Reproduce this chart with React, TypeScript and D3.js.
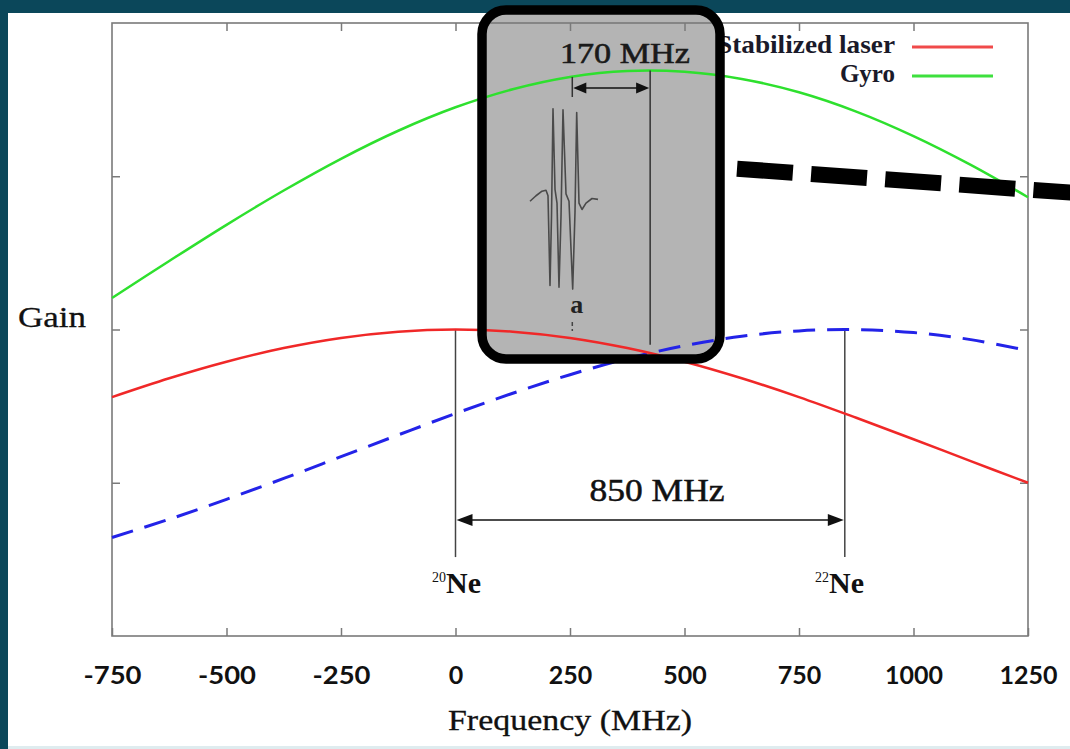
import React, { useEffect, useRef } from 'react';
import * as d3 from 'd3';

const W = 1070;
const H = 749;

// Frequency grid (MHz) and gain values
const freqs = [-750, -625, -500, -375, -250, -125, 0, 125, 250, 375, 500, 625, 750, 875, 1000, 1125, 1250];
const stabilizedLaser = [1.559, 1.682, 1.79, 1.879, 1.945, 1.986, 2.0, 1.986, 1.945, 1.879, 1.79, 1.682, 1.559, 1.424, 1.284, 1.141, 1.0];
const gyro = [2.206, 2.447, 2.683, 2.907, 3.114, 3.297, 3.45, 3.568, 3.648, 3.687, 3.682, 3.635, 3.548, 3.422, 3.262, 3.074, 2.863];
const ne22Gain = [0.643, 0.762, 0.892, 1.028, 1.17, 1.312, 1.452, 1.584, 1.705, 1.81, 1.894, 1.956, 1.991, 1.999, 1.98, 1.934, 1.863];

const xTicks = [-750, -500, -250, 0, 250, 500, 750, 1000, 1250];
const yTicks = [1, 2, 3];
const legendLabels = ['Stabilized laser', 'Gyro'];

// Annotation positions in data units
const ne20Freq = 0;
const ne22Freq = 850;
const gyroPeakFreq = 425;
const markerAFreq = 255;

// Inset spectrum sketch (local units: x 0..68, level -1..1)
const specX = [0, 6, 12, 16, 18, 20, 21.5, 23, 25, 27, 29, 31, 33, 36, 39, 42.7, 45, 46.7, 49, 52, 56, 62, 68];
const specY = [-0.03, 0.03, 0.08, 0.09, 0.03, -0.95, -0.2, 0.98, 0.1, -0.05, -0.97, -0.2, 0.97, 0.05, -0.03, -0.99, -0.15, 0.94, -0.05, -0.12, -0.05, 0.0, -0.01];

const SERIF = "'Liberation Serif', 'DejaVu Serif', serif";

export default function App() {
  const bottomRef = useRef<SVGGElement>(null);
  const topRef = useRef<SVGGElement>(null);
  const leftRef = useRef<SVGGElement>(null);
  const rightRef = useRef<SVGGElement>(null);

  const x = d3.scaleLinear().domain([-750, 1250]).range([112, 1028]);
  const y = d3.scaleLinear().domain([0, 4]).range([636, 23]);

  const line = (vals: number[]) =>
    d3
      .line<number>()
      .x((_, i) => x(freqs[i]))
      .y((d) => y(d))
      .curve(d3.curveCatmullRom.alpha(0.5))(vals) || '';

  const sx = d3.scaleLinear().domain([0, 68]).range([530, 598]);
  const sy = d3.scaleLinear().domain([-1, 1]).range([290, 107]);
  const specPath =
    d3
      .line<number>()
      .x((d) => sx(d))
      .y((_, i) => sy(specY[i]))
      .curve(d3.curveLinear)(specX) || '';

  useEffect(() => {
    const styleAxis = (g: d3.Selection<SVGGElement, unknown, null, undefined>) => {
      g.select('.domain').remove();
      g.selectAll('line').attr('stroke', '#7a7a7a').attr('stroke-width', 1.5);
    };
    const b = d3.select(bottomRef.current!);
    b.call(
      d3
        .axisBottom(x)
        .tickValues(xTicks)
        .tickSizeInner(-8)
        .tickSizeOuter(0)
        .tickPadding(31)
        .tickFormat((d) => String(d))
    );
    styleAxis(b);
    b.selectAll('text')
      .attr('font-family', "Lato, 'Liberation Sans', sans-serif")
      .attr('font-weight', 700)
      .attr('font-size', 24)
      .attr('textLength', (d: any) => String(d).length * 14.5)
      .attr('lengthAdjust', 'spacingAndGlyphs')
      .attr('fill', '#111');

    const t = d3.select(topRef.current!);
    t.call(d3.axisTop(x).tickValues(xTicks.slice(1, -1)).tickSizeInner(-8).tickSizeOuter(0).tickFormat(() => ''));
    styleAxis(t);

    const l = d3.select(leftRef.current!);
    l.call(d3.axisLeft(y).tickValues(yTicks).tickSizeInner(-8).tickSizeOuter(0).tickFormat(() => ''));
    styleAxis(l);

    const r = d3.select(rightRef.current!);
    r.call(d3.axisRight(y).tickValues(yTicks).tickSizeInner(-8).tickSizeOuter(0).tickFormat(() => ''));
    styleAxis(r);
  }, []);

  const arrowHead = (px: number, py: number, dir: number, len: number, half: number) =>
    `M${px},${py} L${px - dir * len},${py - half} L${px - dir * len},${py + half} Z`;

  const arrowY850 = y(0.757);
  const arrowY170 = y(3.576);

  return (
    <svg width={W} height={H} style={{ position: 'absolute', left: 0, top: 0 }}>
      {/* frame background */}
      <rect x={0} y={0} width={W} height={H} fill="#0b475a" />
      <rect x={8} y={13} width={W - 8} height={H - 16} fill="#ffffff" />
      <rect x={8} y={H - 3} width={W - 8} height={3} fill="#dfecef" />

      {/* inset box fill */}
      <rect x={482} y={10} width={238} height={349} rx={24} ry={24} fill="#b4b4b4" />

      {/* plot frame */}
      <rect x={112} y={23} width={916} height={613} fill="none" stroke="#7a7a7a" strokeWidth={1.6} />
      <g ref={bottomRef} transform="translate(0,636)" />
      <g ref={topRef} transform="translate(0,23)" />
      <g ref={leftRef} transform="translate(112,0)" />
      <g ref={rightRef} transform="translate(1028,0)" />

      {/* Gain label */}
      <text x={18} y={327} fontFamily={SERIF} fontSize={30} textLength={68} lengthAdjust="spacingAndGlyphs" fill="#111" stroke="#111" strokeWidth={0.3}>
        Gain
      </text>
      {/* x axis title */}
      <text x={448} y={730} fontFamily={SERIF} fontSize={30} textLength={244} lengthAdjust="spacingAndGlyphs" fill="#111" stroke="#111" strokeWidth={0.3}>
        Frequency (MHz)
      </text>

      {/* isotope verticals */}
      <line x1={x(ne20Freq)} x2={x(ne20Freq)} y1={y(2)} y2={y(0.515)} stroke="#444" strokeWidth={1.5} />
      <line x1={x(ne22Freq)} x2={x(ne22Freq)} y1={y(2)} y2={y(0.515)} stroke="#444" strokeWidth={1.5} />

      {/* 850 MHz arrow */}
      <line x1={x(ne20Freq) + 12} x2={x(ne22Freq) - 12} y1={arrowY850} y2={arrowY850} stroke="#111" strokeWidth={1.6} />
      <path d={arrowHead(x(ne20Freq) + 1, arrowY850, -1, 16, 6)} fill="#111" />
      <path d={arrowHead(x(ne22Freq) - 1, arrowY850, 1, 16, 6)} fill="#111" />
      <text x={x(440)} y={y(0.88)} textAnchor="middle" fontFamily={SERIF} fontSize={31} textLength={135} lengthAdjust="spacingAndGlyphs" fill="#111" stroke="#111" strokeWidth={0.5}>
        850 MHz
      </text>

      {/* Ne labels */}
      <text x={432} y={y(0.28)} fontFamily={SERIF} fill="#111">
        <tspan fontSize={14} dy={-11}>20</tspan>
        <tspan fontSize={30} fontWeight={700} dy={11}>Ne</tspan>
      </text>
      <text x={815} y={y(0.28)} fontFamily={SERIF} fill="#111">
        <tspan fontSize={14} dy={-11}>22</tspan>
        <tspan fontSize={30} fontWeight={700} dy={11}>Ne</tspan>
      </text>

      {/* curves */}
      <path d={line(ne22Gain)} fill="none" stroke="#2323e8" strokeWidth={3} strokeDasharray="22 12" />
      <path d={line(stabilizedLaser)} fill="none" stroke="#f02828" strokeWidth={2.5} />
      <path d={line(gyro)} fill="none" stroke="#2ee02e" strokeWidth={2.5} />

      {/* inset annotations */}
      <line x1={x(gyroPeakFreq)} x2={x(gyroPeakFreq)} y1={y(3.69)} y2={y(1.9)} stroke="#333" strokeWidth={1.5} />
      <line x1={x(markerAFreq)} x2={x(markerAFreq)} y1={y(3.648)} y2={y(3.517)} stroke="#333" strokeWidth={1.5} />
      <line x1={x(markerAFreq) + 10} x2={x(gyroPeakFreq) - 10} y1={arrowY170} y2={arrowY170} stroke="#111" strokeWidth={1.6} />
      <path d={arrowHead(x(markerAFreq) + 1, arrowY170, -1, 13, 5.5)} fill="#111" />
      <path d={arrowHead(x(gyroPeakFreq) - 1, arrowY170, 1, 13, 5.5)} fill="#111" />
      <text x={x(370)} y={y(3.739)} textAnchor="middle" fontFamily={SERIF} fontSize={30} textLength={130} lengthAdjust="spacingAndGlyphs" fill="#1a1a1a" stroke="#1a1a1a" strokeWidth={0.6}>
        170 MHz
      </text>
      <path d={specPath} fill="none" stroke="#4a4a4a" strokeWidth={1.6} strokeLinejoin="round" />
      <text x={x(265)} y={y(2.108)} textAnchor="middle" fontFamily={SERIF} fontSize={26} fontWeight={700} fill="#222">
        a
      </text>
      <line x1={x(markerAFreq)} x2={x(markerAFreq)} y1={y(2.049)} y2={y(1.99)} stroke="#444" strokeWidth={1.5} strokeDasharray="4 3" />

      {/* legend */}
      <text x={895} y={53} textAnchor="end" fontFamily={SERIF} fontSize={25} fontWeight={700} textLength={178} lengthAdjust="spacingAndGlyphs" fill="#1a1a2a">
        {legendLabels[0]}
      </text>
      <text x={895} y={82} textAnchor="end" fontFamily={SERIF} fontSize={25} fontWeight={700} fill="#1a1a2a">
        {legendLabels[1]}
      </text>
      <line x1={912} x2={993} y1={47} y2={47} stroke="#f04a4a" strokeWidth={3} />
      <line x1={912} x2={993} y1={76} y2={76} stroke="#3ee03e" strokeWidth={3} />

      {/* inset box border */}
      <rect x={482} y={10} width={238} height={349} rx={24} ry={24} fill="none" stroke="#000" strokeWidth={9.5} />

      {/* black dashed pointer */}
      <line x1={737} y1={168.7} x2={1080} y2={193.3} stroke="#000" strokeWidth={16} strokeDasharray="56 18.3" />
    </svg>
  );
}
